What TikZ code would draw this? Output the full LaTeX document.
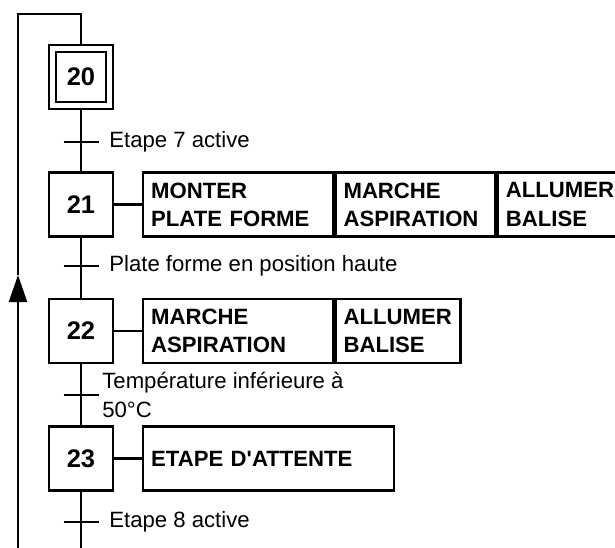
\documentclass[tikz,border=0pt]{standalone}
\usepackage{fontspec}
\setmainfont{Liberation Sans}
\usetikzlibrary{arrows.meta,positioning}
\tikzset{
  grline/.style={line width=1.35pt,draw=black},
  etape/.style={draw,line width=1.35pt,minimum size=1.28cm,inner sep=0pt,font=\fontsize{14.5}{17}\selectfont\bfseries},
  action/.style={draw,line width=1.35pt,anchor=west,minimum height=1.28cm,text width=#1,inner xsep=0.16cm,inner ysep=0pt,align=left,font=\fontsize{12.6}{16}\selectfont\bfseries},
  recept/.style={anchor=west,inner sep=0pt,align=left,font=\fontsize{12.6}{16}\selectfont},
  arr/.style={-{Triangle[length=0.54cm,width=0.36cm]},line width=1.35pt},
}
\begin{document}
\begin{tikzpicture}[x=1cm,y=1cm]
  \useasboundingbox (0,0) rectangle (12.3,-10.94);
  \clip (0,0) rectangle (12.3,-10.94);
  % steps (20 = initial step)
  \node[etape] (e20) at (1.62,-1.54) {20};
  \node[etape,minimum size=1.0cm] (e20i) at (e20) {};
  \node[etape] (e21) at (1.62,-4.09) {21};
  \node[etape] (e22) at (1.62,-6.62) {22};
  \node[etape] (e23) at (1.62,-9.17) {23};
  % transitions
  \coordinate (t1) at (1.62,-2.84);
  \coordinate (t2) at (1.62,-5.32);
  \coordinate (t3) at (1.62,-7.90);
  \coordinate (t4) at (1.62,-10.44);
  \coordinate (bas) at (1.62,-11.2);
  \draw[grline] (e20) -- (e21);
  \draw[grline] (e21) -- (e22);
  \draw[grline] (e22) -- (e23);
  \draw[grline] (e23) -- (bas);
  \foreach \t in {t1,t2,t3,t4}
    \draw[grline] ([xshift=-0.35cm]\t) -- ([xshift=0.35cm]\t);
  \node[recept,right=0.56cm of t1] (r1) {Etape 7 active};
  \node[recept,right=0.56cm of t2] (r2) {Plate forme en position haute};
  \node[recept,right=0.42cm of t3] (r3) {Température inférieure à\\50°C};
  \node[recept,right=0.56cm of t4] (r4) {Etape 8 active};
  % actions
  \node[action=3.48cm] (a21a) at (2.84,-4.09) {MONTER\\PLATE FORME};
  \node[action=2.88cm] (a21b) at (a21a.east) {MARCHE\\ASPIRATION};
  \node[action=3.08cm] (a21c) at (a21b.east) {ALLUMER\\BALISE};
  \draw[grline] (e21) -- (a21a);
  \node[action=3.48cm] (a22a) at (2.84,-6.62) {MARCHE\\ASPIRATION};
  \node[action=2.18cm] (a22b) at (a22a.east) {ALLUMER\\BALISE};
  \draw[grline] (e22) -- (a22a);
  \node[action=4.70cm] (a23) at (2.84,-9.17) {ETAPE D\textquotesingle{}ATTENTE};
  \draw[grline] (e23) -- (a23);
  % return loop
  \coordinate (retB) at (0.36,-11.2);
  \coordinate (retA) at (0.36,-5.50);
  \coordinate (retH) at (0.36,-0.28);
  \draw[grline,arr] (retB) -- (retA);
  \draw[grline] (retA) -- (retH) -| (e20);
\end{tikzpicture}
\end{document}
